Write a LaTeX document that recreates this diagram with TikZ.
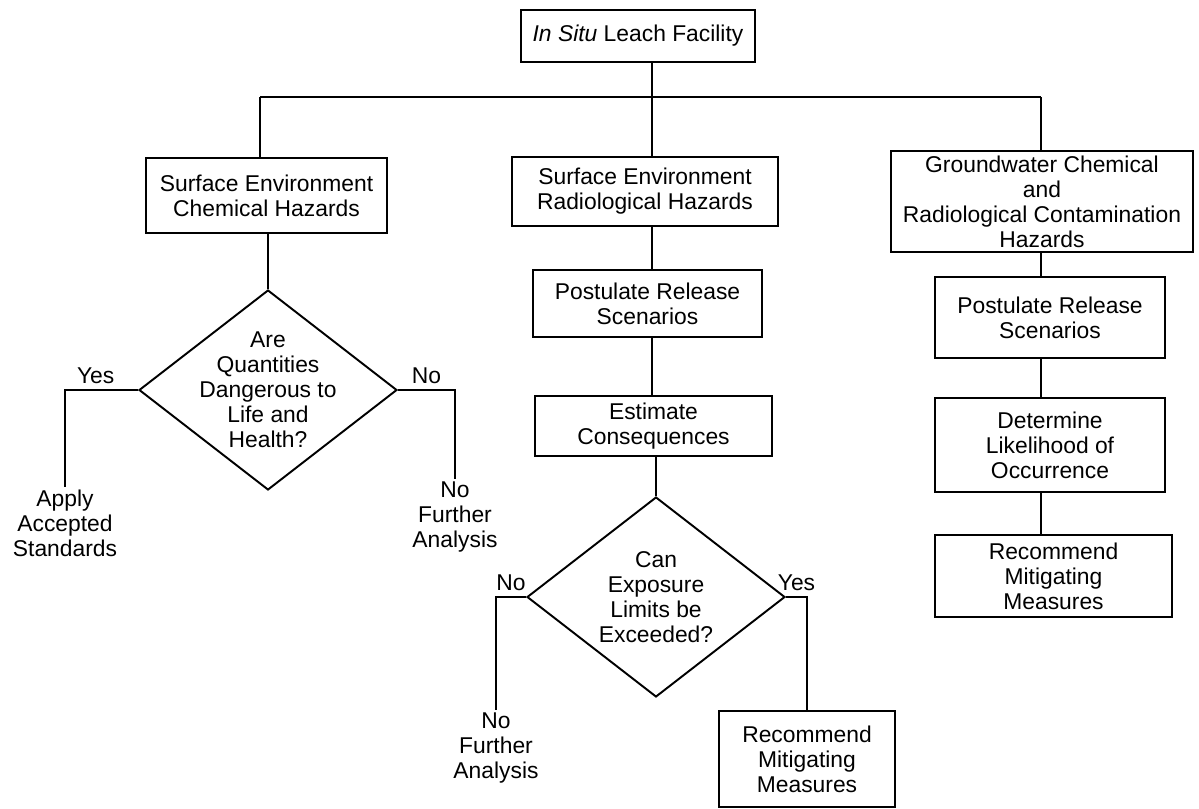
\documentclass[tikz,border=0pt]{standalone}
\usepackage{fontspec}
\setmainfont{Liberation Sans}
\usetikzlibrary{shapes.geometric}

\begin{document}
\begin{tikzpicture}
  [x=0.02cm,y=-0.02cm,line width=1.1pt,
   % Styles
   every node/.style={font=\fontsize{13pt}{14.2pt}\selectfont},
   box/.style={draw,rectangle,align=center,inner sep=1pt},
   decision/.style={draw,diamond,align=center,inner sep=-30pt,
     minimum width=5.16cm,minimum height=4cm},
   outcome/.style={align=center,inner sep=1pt},
   answer/.style={above,inner sep=3pt}]

  \useasboundingbox (0,0) rectangle (1199,808);

  % Columns on the bus line
  \coordinate (c1) at (260,97);
  \coordinate (c2) at (652,97);
  \coordinate (c3) at (1041,97);

  % The boxes
  \node[box,minimum width=4.68cm,minimum height=1.04cm] (top) at (638,36)
    {\textit{In Situ} Leach Facility};

  \node[box,minimum width=4.82cm,minimum height=1.5cm] (sc) at (266.5,195.5)
    {Surface Environment\\Chemical Hazards};
  \node[box,minimum width=5.32cm,minimum height=1.38cm] (sr) at (645,191.5)
    {Surface Environment\\Radiological Hazards};
  \node[box,minimum width=6.04cm,minimum height=2.02cm] (gw) at (1042,201.5)
    {Groundwater Chemical\\and\\Radiological Contamination\\Hazards};

  % Left column
  \node[decision] (q1) at (268,390)
    {Are\\Quantities\\Dangerous to\\Life and\\Health?};
  \node[outcome] (apply) at (65,523) {Apply\\Accepted\\Standards};
  \node[outcome] (nfa1) at (455,517) {No\\Further\\Analysis};

  % Middle column
  \node[box,minimum width=4.58cm,minimum height=1.34cm] (ps1) at (647.5,303.5)
    {Postulate Release\\Scenarios};
  \node[box,minimum width=4.74cm,minimum height=1.2cm] (est) at (653.5,426)
    {Estimate\\Consequences};
  \node[decision] (q2) at (656,597)
    {Can\\Exposure\\Limits be\\Exceeded?};
  \node[outcome] (nfa2) at (496,748) {No\\Further\\Analysis};
  \node[box,minimum width=3.52cm,minimum height=1.92cm] (rec2) at (807,759)
    {Recommend\\Mitigating\\Measures};

  % Right column
  \node[box,minimum width=4.6cm,minimum height=1.62cm] (ps2) at (1050,317.5)
    {Postulate Release\\Scenarios};
  \node[box,minimum width=4.6cm,minimum height=1.88cm] (dl) at (1050,445)
    {Determine\\Likelihood of\\Occurrence};
  \node[box,minimum width=4.74cm,minimum height=1.64cm] (rec3) at (1053.5,576)
    {Recommend\\Mitigating\\Measures};

  % Connectors
  \draw (top.south -| c2) -- (c2);
  \draw (c1) -- (c3);
  \draw (c1) -- (sc.north -| c1);
  \draw (c2) -- (sr.north -| c2);
  \draw (c3) -- (gw.north -| c3);

  \draw (sc.south -| q1.north) -- (q1.north);
  \draw (q1.west) -| node[answer,pos=0.29] (yes1) {Yes} (apply.north);
  \draw (q1.east) -| node[answer,pos=0.25] (no1) {No} (nfa1.north);

  \draw (sr.south -| c2) -- (ps1.north -| c2);
  \draw (ps1.south -| c2) -- (est.north -| c2);
  \draw (est.south -| q2.north) -- (q2.north);
  \draw (q2.west) -| node[answer,pos=0.25] (no2) {No} (nfa2.north);
  \draw (q2.east) -| node[answer,pos=0.25] (yes2) {Yes} (rec2.north);

  \draw (gw.south -| c3) -- (ps2.north -| c3);
  \draw (ps2.south -| c3) -- (dl.north -| c3);
  \draw (dl.south -| c3) -- (rec3.north -| c3);
\end{tikzpicture}
\end{document}
